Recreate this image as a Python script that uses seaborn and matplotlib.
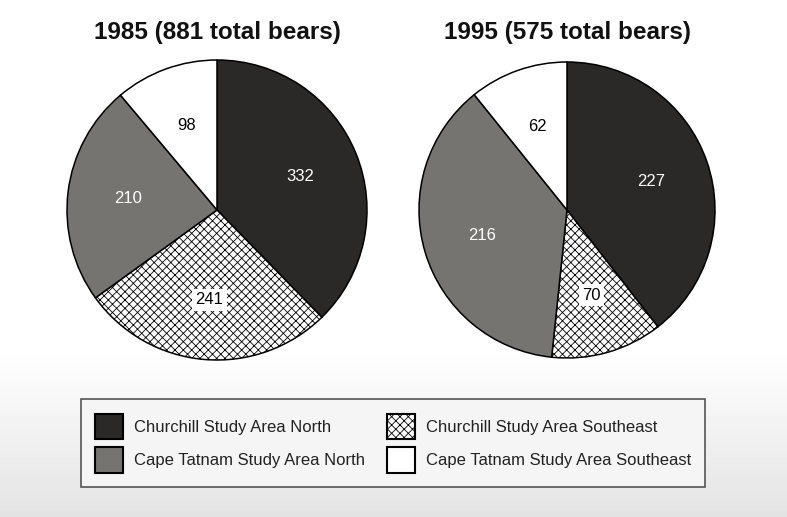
import numpy as np
import matplotlib
matplotlib.use("Agg")
import matplotlib.pyplot as plt
import seaborn as sns
from matplotlib.patches import Patch

# Datos
areas = ["Churchill Study Area North", "Churchill Study Area Southeast",
         "Cape Tatnam Study Area North", "Cape Tatnam Study Area Southeast"]
osos_1985 = [332, 241, 210, 98]
osos_1995 = [227, 70, 216, 62]
titulos = ["1985 (881 total bears)", "1995 (575 total bears)"]

colores = ["#2b2828", "#ffffff", "#767471", "#ffffff"]
tramas = [None, "xxxx", None, None]
color_texto = ["white", "black", "white", "black"]

sns.set_theme(style="white")
plt.rcParams["font.family"] = ["Liberation Sans", "DejaVu Sans"]
plt.rcParams["hatch.linewidth"] = 0.6
plt.rcParams["hatch.color"] = "#222222"

W, H = 787, 517
fig = plt.figure(figsize=(W / 100, H / 100), dpi=100)

# Fondo con degradado en la parte inferior
fondo = fig.add_axes([0, 0, 1, 1], zorder=-10)
filas = np.arange(H)
grad = np.where(filas < 350, 1.0, 1.0 - (filas - 350) / (H - 350) * 0.11)
fondo.imshow(grad[:, None], cmap="gray", vmin=0, vmax=1, aspect="auto",
             extent=[0, 1, 0, 1])
fondo.set_axis_off()


def dibujar_pie(cx, cy, r, valores, titulo):
    lim = 1.1
    size = r * lim
    ax = fig.add_axes([(cx - size) / W, (H - cy - size) / H, 2 * size / W, 2 * size / H])
    total = sum(valores)
    wedges, _, textos = ax.pie(
        valores, colors=colores, startangle=90, counterclock=False,
        autopct=lambda p: f"{round(p * total / 100)}", pctdistance=0.6,
        wedgeprops=dict(edgecolor="black", linewidth=1.1),
        textprops=dict(fontsize=12))
    for w, t, tr, ct in zip(wedges, textos, tramas, color_texto):
        t.set_color(ct)
        if tr:
            w.set_hatch(tr)
            t.set_bbox(dict(facecolor="white", edgecolor="none", pad=2.5))
    ax.set_xlim(-lim, lim)
    ax.set_ylim(-lim, lim)
    ax.set_aspect("equal")
    ax.set_axis_off()
    fig.text(cx / W, 1 - 32 / H, titulo, ha="center", va="center",
             fontsize=17.5, fontweight="bold", color="#111111")


dibujar_pie(217, 210, 150, osos_1985, titulos[0])
dibujar_pie(567, 210, 148, osos_1995, titulos[1])

# Leyenda
handles = [Patch(facecolor=c, edgecolor="black", hatch=h, linewidth=1.5)
           for c, h in zip(colores, tramas)]
orden = [0, 2, 1, 3]
leg = fig.legend([handles[i] for i in orden], [areas[i] for i in orden],
                 ncol=2, loc="center", bbox_to_anchor=(393 / W, 1 - 443 / H),
                 fontsize=12, handlelength=1.7, handleheight=2.0,
                 handletextpad=0.65, columnspacing=1.3, labelspacing=0.45,
                 borderpad=0.85, borderaxespad=0, frameon=True, fancybox=False,
                 framealpha=1)
leg.get_frame().set_edgecolor("#555555")
leg.get_frame().set_linewidth(1.2)
leg.get_frame().set_facecolor("#f5f5f5")
for t in leg.get_texts():
    t.set_color("#222222")

fig.savefig("out.png", dpi=100)
